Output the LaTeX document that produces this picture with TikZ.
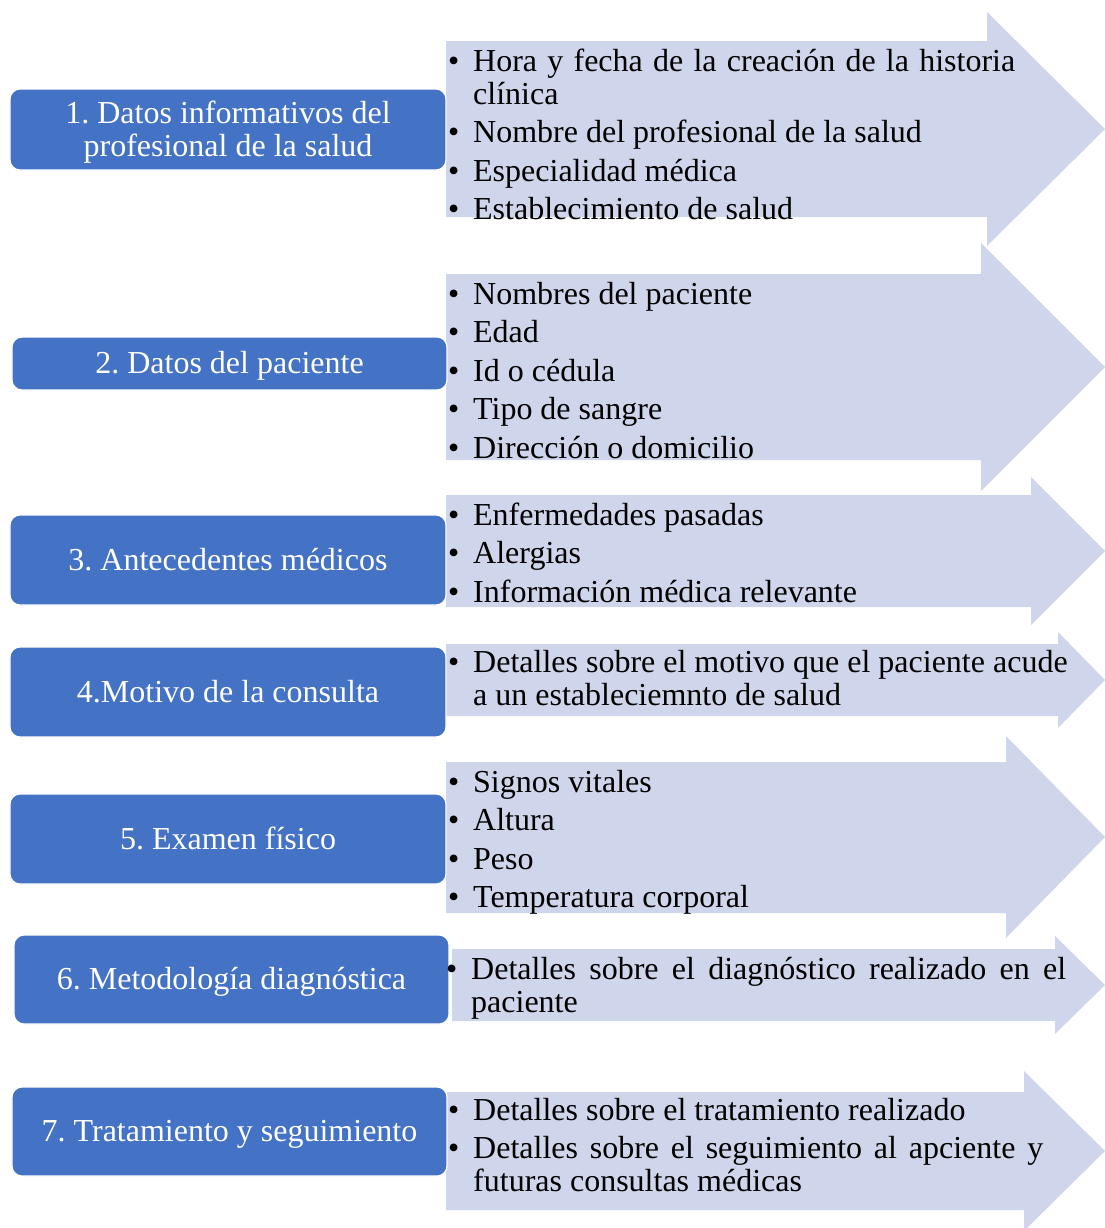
\documentclass[tikz,border=0pt]{standalone}
\usepackage{fontspec}
\setmainfont{Liberation Serif}
\frenchspacing

\definecolor{cajaazul}{HTML}{4472C4}
\definecolor{flechaclara}{HTML}{CFD5EA}

% one bullet item with hanging indent
\newcommand\punto[1]{\hangindent=25bp\hangafter=1\noindent\makebox[25bp][l]{\textbullet}#1\par}
\newcommand\entre{\vspace{5.5bp}}
\newcommand\listfmt{\fontsize{32bp}{33bp}\selectfont\frenchspacing\parskip=0pt\tolerance=9999\hyphenpenalty=10000\exhyphenpenalty=10000}

\tikzset{
  flecha/.style={fill=flechaclara, draw=none},
  caja/.style={fill=cajaazul, draw=white, line width=1.2bp, rounded corners=10bp,
    text=white, align=center, inner sep=0pt, text height=20bp, text depth=0pt,
    font=\fontsize{32bp}{33bp}\selectfont},
  lista/.style={anchor=base west, inner sep=0pt, text=black}
}

\begin{document}
\begin{tikzpicture}[x=1bp, y=-1bp]
\useasboundingbox (0,0) rectangle (1105,1228);

% block arrows behind the lists
\fill[flecha] (446,41) -- (987,41) -- (987,12) -- (1105,129) -- (987,246) -- (987,217) -- (446,217) -- cycle;
\fill[flecha] (446,274) -- (981,274) -- (981,243) -- (1105,367) -- (981,491) -- (981,460) -- (446,460) -- cycle;
\fill[flecha] (446,495) -- (1031,495) -- (1031,477) -- (1105,551) -- (1031,625) -- (1031,607) -- (446,607) -- cycle;
\fill[flecha] (446,644) -- (1058,644) -- (1058,632) -- (1105,680) -- (1058,728) -- (1058,716) -- (446,716) -- cycle;
\fill[flecha] (446,762) -- (1006,762) -- (1006,736) -- (1105,837) -- (1006,938) -- (1006,913) -- (446,913) -- cycle;
\fill[flecha] (452,949) -- (1055,949) -- (1055,936) -- (1105,985) -- (1055,1034) -- (1055,1021) -- (452,1021) -- cycle;
\fill[flecha] (446,1092) -- (1024,1092) -- (1024,1071) -- (1105,1151) -- (1024,1231) -- (1024,1210) -- (446,1210) -- cycle;

% section boxes
\node[caja, text height=53bp, minimum width=436bp, minimum height=81bp] (c1) at (228,129.5) {1. Datos informativos del\\profesional de la salud};
\node[caja, minimum width=435bp, minimum height=53bp] (c2) at (229.5,363.5) {2. Datos del paciente};
\node[caja, minimum width=436bp, minimum height=90bp] (c3) at (228,560) {3. Antecedentes médicos};
\node[caja, minimum width=436bp, minimum height=90bp] (c4) at (228,692) {4.Motivo de la consulta};
\node[caja, minimum width=436bp, minimum height=90bp] (c5) at (228,839) {5. Examen físico};
\node[caja, minimum width=435bp, minimum height=89bp] (c6) at (231.5,979.5) {6. Metodología diagnóstica};
\node[caja, minimum width=435bp, minimum height=89bp] (c7) at (229.5,1131.5) {7. Tratamiento y seguimiento};

% bullet lists
\node[lista] (l1) at (448,71) {\parbox[t]{567bp}{\listfmt
  \punto{Hora y fecha de la creación de la historia\linebreak clínica}\entre
  \punto{Nombre del profesional de la salud}\entre
  \punto{Especialidad médica}\entre
  \punto{Establecimiento de salud}}};

\node[lista] (l2) at (448,304) {\parbox[t]{550bp}{\listfmt
  \punto{Nombres del paciente}\entre
  \punto{Edad}\entre
  \punto{Id o cédula}\entre
  \punto{Tipo de sangre}\entre
  \punto{Dirección o domicilio}}};

\node[lista] (l3) at (448,525) {\parbox[t]{600bp}{\listfmt
  \punto{Enfermedades pasadas}\entre
  \punto{Alergias}\entre
  \punto{Información médica relevante}}};

\node[lista] (l4) at (448,672) {\parbox[t]{630bp}{\listfmt
  \punto{Detalles sobre el motivo que el paciente acude\newline a un estableciemnto de salud}}};

\node[lista] (l5) at (448,792) {\parbox[t]{550bp}{\listfmt
  \punto{Signos vitales}\entre
  \punto{Altura}\entre
  \punto{Peso}\entre
  \punto{Temperatura corporal}}};

\node[lista] (l6) at (446,979) {\parbox[t]{620bp}{\listfmt
  \punto{Detalles sobre el diagnóstico realizado en el\linebreak paciente}}};

\node[lista] (l7) at (448,1120) {\parbox[t]{595bp}{\listfmt
  \punto{Detalles sobre el tratamiento realizado}\entre
  \punto{Detalles sobre el seguimiento al apciente y\linebreak futuras consultas médicas}}};
\end{tikzpicture}
\end{document}
